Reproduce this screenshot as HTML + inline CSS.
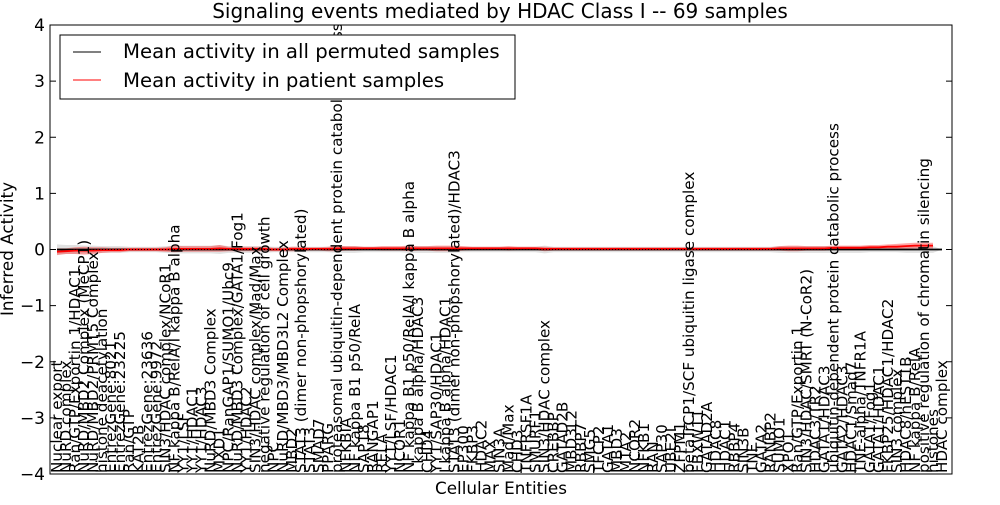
<!DOCTYPE html>
<html><head><meta charset="utf-8"><style>
body{margin:0;background:#fff;}
svg text{font-family:"DejaVu Sans","Liberation Sans",sans-serif;}
</style></head><body>
<svg id="chart" width="1000" height="500" viewBox="0 0 1000 500" xmlns="http://www.w3.org/2000/svg">
<defs><clipPath id="plotclip"><rect x="50" y="25" width="902" height="449"/></clipPath></defs>
<rect width="1000" height="500" fill="#fff"/>
<text x="500" y="18" text-anchor="middle" font-size="20">Signaling events mediated by HDAC Class I -- 69 samples</text>
<g id="bands"></g>
<g id="lines"></g>
<g id="xlabels" clip-path="url(#plotclip)"></g>
<g id="yaxis"></g>
<rect x="50" y="25" width="902" height="449" fill="none" stroke="#000" stroke-width="1"/>
<text x="501" y="494" text-anchor="middle" font-size="16.8">Cellular Entities</text>
<text transform="translate(13,249) rotate(-90)" text-anchor="middle" font-size="16.8">Inferred Activity</text>
<g>
<rect x="60" y="35" width="455" height="64" fill="#fff" stroke="#000" stroke-width="1"/>
<line x1="73" y1="52" x2="101" y2="52" stroke="#000" stroke-width="1"/>
<text x="123" y="58" font-size="19.7">Mean activity in all permuted samples</text>
<line x1="73" y1="80" x2="101" y2="80" stroke="#f00" stroke-width="1"/>
<text x="123" y="87" font-size="19.7">Mean activity in patient samples</text>
</g>
</svg>
<script>
const entities = ["Nuclear export","NuRD complex","Ran/GTP/Exportin 1/HDAC1","NuRD/MBD2 Complex (MeCP1)","NuRD/MBD2/PRMT5 Complex","histone deacetylation","EntrezGene:8021","EntrezGene:23225","Ran/GTP","KAT2B","EntrezGene:23636","EntrezGene:9972","SIN3/HDAC complex/NCoR1","NF kappa B/RelA/I kappa B alpha","YY1/LSF","YY1/HDAC1","YY1/HDAC3","NuRD/MBD3 Complex","MXD1","NPC/RanGAP1/SUMO1/Ubc9","NuRD/MBD3 Complex/GATA1/Fog1","YY1/HDAC2","SIN3/HDAC complex/Mad/Max","negative regulation of cell growth","NPC","NuRD/MBD3/MBD3L2 Complex","MBD2","STAT3 (dimer non-phopshorylated)","STAT3","SMAD7","PPARG","proteasomal ubiquitin-dependent protein catabolic process","NFKBIA","NF kappa B1 p50/RelA","SAP18","RANGAP1","RELA","YY1/LSF/HDAC1","NCOR1","NF kappa B1 p50/RelA/I kappa B alpha","I kappa B alpha/HDAC3","CHD4","YY1/SAP30/HDAC1","I kappa B alpha/HDAC1","STAT3 (dimer non-phopshorylated)/HDAC3","EP300","FKBP3","HDAC2","MAX","SIN3A","Mad/Max","CHD3","TNFRSF1A","SMURF1","SIN3/HDAC complex","CREBBP","GATAD2B","MBD3L2","RBBP7","SMG5","TFCP2","GATA1","MBD3","MTA2","NCOR2","NFKB1","RAN","SAP30","UBE2I","ZFPM1","betaTrCP1/SCF ubiquitin ligase complex","FBXW11","GATAD2A","HDAC8","HDAC1","RBBP4","SIN3B","TNF","GATA2","RANBP2","SUMO1","XPO1","Ran/GTP/Exportin 1","SIN3/HDAC/SMRT (N-CoR2)","HDAC3/TR2","GATA1/HDAC3","ubiquitin-dependent protein catabolic process","GATA2/HDAC3","HDAC1/Smad7","TNF-alpha/TNFR1A","GATA1/Fog1","GATA1/HDAC1","FKBP25/HDAC1/HDAC2","SIN3 complex","HDAC8/hEST1B","NF kappa B/RelA","positive regulation of chromatin silencing","histones","HDAC complex"];
const patientMean = [-0.04,-0.03,-0.02,-0.02,-0.02,-0.01,-0.01,-0.01,0,0,0,0,0,0.01,0.01,0.01,0.01,0.01,0.02,0.01,0.01,0.01,0.01,0.01,0,0,0.01,0.01,0.01,0.01,0.01,0.02,0.02,0.02,0.02,0.02,0.02,0.02,0.02,0.02,0.02,0.02,0.02,0.02,0.02,0.02,0.02,0.02,0.02,0.02,0.02,0.02,0.02,0.02,0.01,0.01,0.01,0.01,0.01,0.01,0.01,0.01,0.01,0.01,0.01,0.01,0.01,0.01,0.01,0.01,0.01,0.01,0.01,0.01,0.01,0.01,0.01,0.01,0.01,0.01,0.02,0.02,0.02,0.02,0.02,0.02,0.03,0.03,0.03,0.03,0.04,0.04,0.05,0.05,0.06,0.07,0.07,0.07];
const patientSpread = [0.06,0.05,0.06,0.07,0.06,0.05,0.04,0.04,0.03,0.03,0.03,0.03,0.04,0.06,0.05,0.05,0.05,0.05,0.06,0.04,0.04,0.04,0.04,0.04,0.03,0.03,0.04,0.04,0.03,0.03,0.04,0.05,0.04,0.04,0.03,0.03,0.04,0.04,0.04,0.05,0.04,0.04,0.05,0.05,0.05,0.04,0.03,0.03,0.03,0.03,0.04,0.03,0.03,0.03,0.04,0.03,0.03,0.03,0.03,0.03,0.03,0.03,0.03,0.03,0.03,0.03,0.03,0.03,0.03,0.03,0.03,0.03,0.03,0.03,0.03,0.03,0.03,0.03,0.03,0.03,0.04,0.05,0.05,0.04,0.04,0.04,0.04,0.04,0.04,0.04,0.04,0.04,0.04,0.05,0.05,0.05,0.05,0.05];
const permMean = entities.map(()=>0);
const permSpread = [0.09,0.08,0.08,0.07,0.07,0.06,0.06,0.06,0.05,0.05,0.05,0.05,0.06,0.07,0.07,0.07,0.07,0.07,0.08,0.06,0.06,0.06,0.06,0.06,0.05,0.05,0.05,0.05,0.05,0.05,0.05,0.06,0.06,0.06,0.05,0.05,0.05,0.05,0.05,0.06,0.06,0.06,0.06,0.06,0.06,0.05,0.05,0.05,0.05,0.05,0.05,0.05,0.05,0.05,0.07,0.05,0.05,0.05,0.05,0.05,0.05,0.05,0.05,0.05,0.05,0.05,0.05,0.05,0.05,0.05,0.05,0.05,0.05,0.05,0.05,0.05,0.05,0.05,0.05,0.05,0.06,0.06,0.06,0.06,0.06,0.06,0.06,0.06,0.06,0.06,0.05,0.05,0.05,0.05,0.06,0.06,0.06,0.06];
const yTicks = [-4,-3,-2,-1,0,1,2,3,4];
const NS="http://www.w3.org/2000/svg";
const X0=57,X1=942;
function xs(i){return X0+(X1-X0)*i/(entities.length-1);}
function ys(v){return 249.5-v*56.125;}
function mk(t,a,p){const e=document.createElementNS(NS,t);for(const k in a)e.setAttribute(k,a[k]);p.appendChild(e);return e;}
function band(mean,spr,col,nm){
  let d="";
  mean.forEach((m,i)=>{d+=(i?"L":"M")+xs(i).toFixed(1)+","+ys(m+(spr[i]||0)).toFixed(1);});
  for(let i=mean.length-1;i>=0;i--)d+="L"+xs(i).toFixed(1)+","+ys(mean[i]-(spr[i]||0)).toFixed(1);
  const p=mk("path",{d:d+"Z",fill:col},document.getElementById("bands"));
  
  
}
band(permMean,permSpread,"rgba(170,170,170,0.35)","permuted-band");
band(patientMean,patientSpread,"rgba(255,0,0,0.35)","patient-band");
function line(vals,col,nm,dash){
  const d=vals.map((v,i)=>(i?"L":"M")+xs(i).toFixed(1)+","+ys(v).toFixed(1)).join("");
  const p=mk("path",{d:d,fill:"none",stroke:col,"stroke-width":dash?1:1.8},document.getElementById("lines"));
  if(dash)p.setAttribute("stroke-dasharray","1,2");
  
  
}
line(permMean,"#000","permuted-mean-line",false);
line(patientMean,"#f00","patient-mean-line",false);
line(permMean,"#000","permuted-dotted-line",true);
const xl=document.getElementById("xlabels");
entities.forEach((e,i)=>{
  const t=mk("text",{transform:"translate("+(xs(i)+5).toFixed(1)+",473) rotate(-90)","font-size":"15.2"},xl);
  t.textContent=e;
  
  
});
const ya=document.getElementById("yaxis");
yTicks.forEach(v=>{
  const y=ys(v);
  const t1=mk("line",{x1:50,x2:56,y1:y,y2:y,stroke:"#000"},ya);
  
  
  const t2=mk("line",{x1:946,x2:952,y1:y,y2:y,stroke:"#000"},ya);
  
  
  const t=mk("text",{x:45,y:y+6,"text-anchor":"end","font-size":"17"},ya);
  t.textContent=String(v).replace("-","\u2212");
  
  
});
</script>
</body></html>
